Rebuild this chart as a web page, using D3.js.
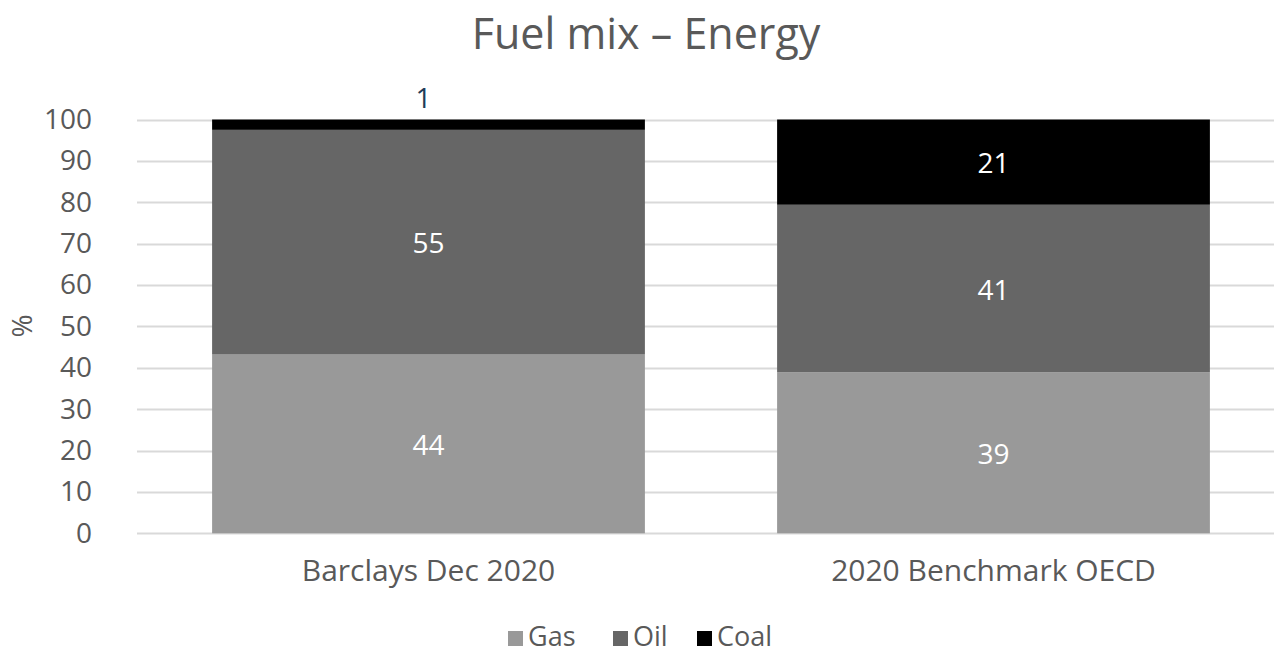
<!DOCTYPE html>
<html>
<head>
<meta charset="utf-8">
<title>Fuel mix - Energy</title>
<script src="https://d3js.org/d3.v7.min.js"></script>
<style>
  body { margin: 0; background: #fff; }
  svg text { font-family: "Open Sans", "Noto Sans", sans-serif; }
</style>
</head>
<body>
<svg class="chart" width="1274" height="654"></svg>
<script>
// data
var categories = ["Barclays Dec 2020", "2020 Benchmark OECD"];
var series = ["Gas", "Oil", "Coal"];
var gasValues = [43.2, 38.9];
var oilValues = [54.3, 40.5];
var coalValues = [2.5, 20.6];
// data labels as printed on the chart
var gasLabels = ["44", "39"];
var oilLabels = ["55", "41"];
var coalLabels = ["1", "21"];
var yTicks = [0, 10, 20, 30, 40, 50, 60, 70, 80, 90, 100];

var colors = { Gas: "#999999", Oil: "#666666", Coal: "#000000" };
var textColor = "#595959";

var rows = categories.map(function(c, i) {
  return { cat: c, Gas: gasValues[i], Oil: oilValues[i], Coal: coalValues[i] };
});
var labels = { Gas: gasLabels, Oil: oilLabels, Coal: coalLabels };

var svg = d3.select(".chart");

var gridLeft = 137, gridRight = 1274;
var x = d3.scaleBand()
  .domain(categories)
  .range([146, 1276])
  .paddingInner(0.234)
  .paddingOuter(0.117);
var y = d3.scaleLinear().domain([0, 100]).range([533.3, 119.5]);

// title
svg.append("text")
  .attr("x", 646).attr("y", 49)
  .attr("text-anchor", "middle")
  .attr("font-size", "43px")
  .attr("fill", textColor)
  .text("Fuel mix \u2013 Energy");

// gridlines
svg.append("g").selectAll("line")
  .data(yTicks)
  .join("line")
  .attr("x1", gridLeft).attr("x2", gridRight)
  .attr("y1", function(d) { return Math.round(y(d)) + 0.5; })
  .attr("y2", function(d) { return Math.round(y(d)) + 0.5; })
  .attr("stroke", "#d9d9d9")
  .attr("stroke-width", 2);

// y axis labels
var yAxis = d3.axisLeft(y).tickValues(yTicks).tickSize(0).tickPadding(0);
var yg = svg.append("g")
  .attr("transform", "translate(92,0)")
  .call(yAxis);
yg.select(".domain").remove();
yg.selectAll("text")
  .attr("font-size", "28px")
  .attr("font-family", "Open Sans, sans-serif")
  .attr("fill", textColor);

// y axis title
svg.append("text")
  .attr("transform", "translate(32,326) rotate(-90)")
  .attr("text-anchor", "middle")
  .attr("font-size", "28px")
  .attr("fill", textColor)
  .text("%");

// stacked bars
var stack = d3.stack().keys(series)(rows);

var layers = svg.append("g").selectAll("g")
  .data(stack)
  .join("g")
  .attr("fill", function(d) { return colors[d.key]; });

layers.selectAll("rect")
  .data(function(d) { return d; })
  .join("rect")
  .attr("x", function(d) { return x(d.data.cat); })
  .attr("width", x.bandwidth())
  .attr("y", function(d) { return y(d[1]); })
  .attr("height", function(d) { return y(d[0]) - y(d[1]); });

// data labels
stack.forEach(function(layer) {
  layer.forEach(function(d, i) {
    var small = (y(d[0]) - y(d[1])) < 30;
    svg.append("text")
      .attr("x", x(d.data.cat) + x.bandwidth() / 2 - (small ? 5 : 0))
      .attr("y", small ? y(d[1]) - 12 : (y(d[0]) + y(d[1])) / 2 + 11)
      .attr("text-anchor", "middle")
      .attr("font-size", "28px")
      .attr("fill", small ? "#1f3c58" : "#ffffff")
      .text(labels[layer.key][i]);
  });
});

// x axis labels
var xAxis = d3.axisBottom(x).tickSize(0).tickPadding(0);
var xg = svg.append("g")
  .attr("transform", "translate(0,554)")
  .call(xAxis);
xg.select(".domain").remove();
xg.selectAll("text")
  .attr("font-size", "30px")
  .attr("font-family", "Open Sans, sans-serif")
  .attr("fill", textColor)
  .attr("dy", "0.9em");

// legend
var legendX = [508, 613, 697];
var legend = svg.append("g").selectAll("g")
  .data(series)
  .join("g")
  .attr("transform", function(d, i) { return "translate(" + legendX[i] + ",631)"; });
legend.append("rect")
  .attr("width", 15).attr("height", 15)
  .attr("fill", function(d) { return colors[d]; });
legend.append("text")
  .attr("x", 20).attr("y", 15)
  .attr("font-size", "27px")
  .attr("fill", textColor)
  .text(function(d) { return d; });
</script>
</body>
</html>
